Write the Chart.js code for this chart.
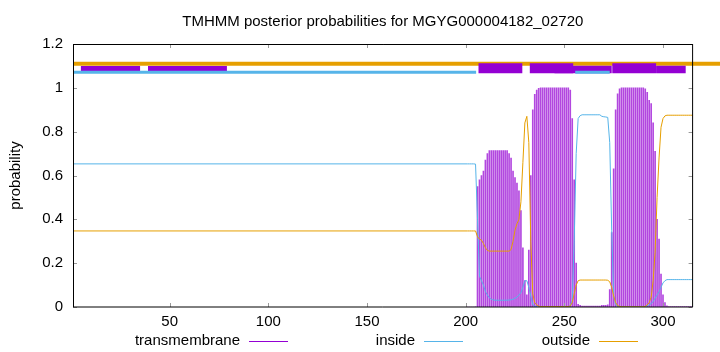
<!DOCTYPE html>
<html><head><meta charset="utf-8">
<script src="https://cdn.jsdelivr.net/npm/chart.js@4.4.1/dist/chart.umd.min.js"></script>
<style>html,body{margin:0;padding:0;background:#fff}#wrap{width:720px;height:352px;position:relative}canvas{display:block}</style>
</head><body><div id="wrap"><canvas id="c" width="720" height="352" style="width:720px;height:352px"></canvas></div>
<script>
const titleText = 'TMHMM posterior probabilities for MGYG000004182_02720';
const yAxisTitle = 'probability';
const seriesNames = ['transmembrane', 'inside', 'outside'];
const xTicks = [50, 100, 150, 200, 250, 300];
const yTicks = [0, 0.2, 0.4, 0.6, 0.8, 1, 1.2];

// sequence positions (1 = start of the flat part, then per residue 201..315)
const seqPos = [1,
  201,202,203,204,205,206,207,208,209,210,
  211,212,213,214,215,216,217,218,219,220,
  221,222,223,224,225,226,227,228,229,230,
  231,232,233,234,235,236,237,238,239,240,
  241,242,243,244,245,246,247,248,249,250,
  251,252,253,254,255,256,257,258,259,260,
  261,262,263,264,265,266,267,268,269,270,
  271,272,273,274,275,276,277,278,279,280,
  281,282,283,284,285,286,287,288,289,290,
  291,292,293,294,295,296,297,298,299,300,
  301,302,303,304,305,306,307,308,309,310,
  311,312,313,314,315];

const tmProb = [0,
  0,0,0,0,0.001,0.55,0.58,0.60,0.62,0.67,
  0.70,0.714,0.714,0.714,0.714,0.714,0.714,0.714,0.714,0.714,
  0.714,0.70,0.68,0.62,0.59,0.565,0.53,0.44,0.27,0.12,
  0.055,0.26,0.60,0.90,0.97,0.99,0.998,1,1,1,
  1,1,1,1,1,1,1,1,1,1,
  1,1,0.99,0.86,0.58,0.20,0.012,0.008,0.004,0.004,
  0.004,0.004,0.004,0.004,0.004,0.004,0.004,0.004,0.008,0.008,
  0.008,0.01,0.08,0.34,0.63,0.90,0.973,0.995,1,1,
  1,1,1,1,1,1,1,1,1,1,
  0.995,0.98,0.943,0.928,0.84,0.71,0.40,0.31,0.15,0.055,
  0.02,0.005,0.002,0.002,0.002,0.002,0.002,0.002,0.002,0.002,
  0.002,0.002,0.002,0.002,0.002];

const insideProb = [0.653,
  0.653,0.653,0.653,0.653,0.652,0.40,0.14,0.12,0.10,0.07,
  0.055,0.042,0.035,0.032,0.031,0.031,0.031,0.031,0.031,0.031,
  0.031,0.032,0.033,0.035,0.04,0.045,0.055,0.065,0.09,0.12,
  0.12,0.09,0.05,0.01,0.003,0.001,0,0,0,0,
  0,0,0,0,0,0,0,0,0,0,
  0,0.001,0.005,0.03,0.30,0.70,0.86,0.873,0.877,0.877,
  0.877,0.877,0.877,0.877,0.877,0.877,0.877,0.877,0.870,0.868,
  0.867,0.865,0.75,0.35,0.05,0.01,0.004,0.002,0.001,0.001,
  0.001,0.001,0.001,0.001,0.001,0.001,0.001,0.001,0.001,0.001,
  0.002,0.005,0.01,0.015,0.025,0.04,0.055,0.07,0.09,0.11,
  0.12,0.125,0.125,0.125,0.125,0.125,0.125,0.125,0.125,0.125,
  0.125,0.125,0.125,0.125,0.125];

const outsideProb = [0.347,
  0.347,0.347,0.347,0.347,0.347,0.32,0.31,0.305,0.29,0.27,
  0.258,0.255,0.255,0.255,0.255,0.255,0.255,0.255,0.255,0.255,
  0.255,0.255,0.262,0.30,0.35,0.38,0.40,0.48,0.66,0.84,
  0.87,0.75,0.30,0.06,0.02,0.01,0.004,0.002,0.002,0.002,
  0.002,0.002,0.002,0.002,0.002,0.002,0.002,0.002,0.002,0.002,
  0.002,0.002,0.005,0.02,0.06,0.10,0.12,0.123,0.123,0.123,
  0.123,0.123,0.123,0.123,0.123,0.123,0.123,0.123,0.123,0.123,
  0.123,0.122,0.115,0.09,0.05,0.02,0.006,0.003,0.001,0.001,
  0.001,0.001,0.001,0.001,0.001,0.001,0.001,0.001,0.001,0.001,
  0.003,0.01,0.02,0.045,0.12,0.25,0.50,0.68,0.82,0.86,
  0.872,0.875,0.875,0.875,0.875,0.875,0.875,0.875,0.875,0.875,
  0.875,0.875,0.875,0.875,0.875];

// predicted topology segments drawn above the curves [from, to]
const topoOutside = [[1, 330]];
const topoInside = [[1, 205.3], [255.5, 273]];
const topoTMLeft = [[5, 35], [39, 79]];
const topoTMRight = [[206.5, 228.7], [232.5, 254.5], [274.3, 296.5]];
const topoTMLow = [[245, 274], [296.5, 311.5]];

const C_TM = '#9400d3', C_IN = '#56b4e9', C_OUT = '#e69f00';
const C_TM_BAR = 'rgba(148,0,211,0.72)';
const FONT = '"Liberation Sans", Arial, Helvetica, sans-serif';

function pts(ys) { return seqPos.map((p, i) => ({x: p, y: ys[i]})); }
function segs(list, level) {
  const out = [];
  list.forEach(([a, b]) => { out.push({x: a, y: level}, {x: b, y: level}, {x: b, y: null}); });
  return out;
}
function band(list, level, color, width, order, clip) {
  return {type: 'line', data: segs(list, level), borderColor: color, borderWidth: width,
    pointRadius: 0, pointHoverRadius: 0, spanGaps: false, tension: 0, order: order, clip: clip, borderCapStyle: 'butt'};
}

const decor = {
  id: 'decor',
  afterDraw(chart) {
    const {ctx, chartArea: a, scales: {x, y}} = chart;
    ctx.save();
    const line = (x1, y1, x2, y2) => { ctx.beginPath(); ctx.moveTo(x1, y1); ctx.lineTo(x2, y2); ctx.stroke(); };
    ctx.lineWidth = 1;
    ctx.strokeStyle = '#999';
    yTicks.forEach(v => { const py = Math.round(y.getPixelForValue(v)) + 0.5;
      line(a.left, py, a.left + 4, py); line(a.right - 4, py, a.right, py); });
    xTicks.forEach(v => { const px = Math.round(x.getPixelForValue(v)) + 0.5;
      line(px, a.bottom, px, a.bottom - 4); line(px, a.top, px, a.top + 4); });
    ctx.strokeStyle = '#000';
    line(a.left + 0.5, a.top + 0.5, a.right, a.top + 0.5);
    line(a.left + 0.5, a.top, a.left + 0.5, a.bottom);
    line(a.right, a.top, a.right, a.bottom);
    line(a.left, a.bottom, a.right, a.bottom);
    ctx.fillStyle = '#000';
    ctx.font = '15px ' + FONT;
    ctx.textAlign = 'center'; ctx.textBaseline = 'middle';
    ctx.fillText(titleText, (a.left + a.right) / 2, 22);
    ctx.save();
    ctx.translate(16, (a.top + a.bottom) / 2);
    ctx.rotate(-Math.PI / 2);
    ctx.fillText(yAxisTitle, 0, 0);
    ctx.restore();
    // key
    const colors = [C_TM, C_IN, C_OUT];
    ctx.textAlign = 'right';
    seriesNames.forEach((n, i) => {
      const lx = 249 + i * 175;
      ctx.fillStyle = '#000';
      ctx.fillText(n, lx - 9, 341);
      ctx.strokeStyle = colors[i];
      line(lx, 341.5, lx + 39, 341.5);
    });
    ctx.restore();
  }
};

new Chart(document.getElementById('c'), {
  type: 'line',
  data: {
    datasets: [
      band(topoInside, 1.071, C_IN, 3, 2, true),
      band(topoTMRight, 1.0897, C_TM, 10, 3, false),
      band(topoTMLeft, 1.088, C_TM, 5, 3, true),
      band(topoTMLow, 1.0835, C_TM, 7.5, 4, false),
      band(topoOutside, 1.11, C_OUT, 4, 5, false),
      {type: 'line', label: seriesNames[2], data: pts(outsideProb), borderColor: C_OUT, borderWidth: 1,
        pointRadius: 0, pointHoverRadius: 0, tension: 0, order: 8},
      {type: 'line', label: seriesNames[1], data: pts(insideProb), borderColor: C_IN, borderWidth: 1,
        pointRadius: 0, pointHoverRadius: 0, tension: 0, order: 9},
      {type: 'bar', label: seriesNames[0], data: pts(tmProb), backgroundColor: C_TM_BAR, borderWidth: 0,
        barThickness: 1, grouped: false, order: 10}
    ]
  },
  options: {
    responsive: false, maintainAspectRatio: false, animation: false, devicePixelRatio: 1,
    events: [],
    layout: {padding: {top: 44, right: 27.4, left: 0, bottom: 0}},
    plugins: {legend: {display: false}, tooltip: {enabled: false}, title: {display: false}},
    scales: {
      x: {type: 'linear', min: 1, max: 315, offset: false,
        grid: {display: false, drawTicks: false}, border: {display: false},
        afterBuildTicks: s => { s.ticks = xTicks.map(v => ({value: v})); },
        afterFit: s => { s.height = 45; },
        ticks: {color: '#000', padding: 6, maxRotation: 0, autoSkip: false, font: {family: FONT, size: 15}}},
      y: {type: 'linear', min: 0, max: 1.2,
        grid: {display: false, drawTicks: false}, border: {display: false},
        afterBuildTicks: s => { s.ticks = yTicks.map(v => ({value: v})); },
        afterFit: s => { s.width = 73; },
        ticks: {color: '#000', padding: 10, callback: v => String(v), font: {family: FONT, size: 15}}}
    }
  },
  plugins: [decor]
});
</script></body></html>
